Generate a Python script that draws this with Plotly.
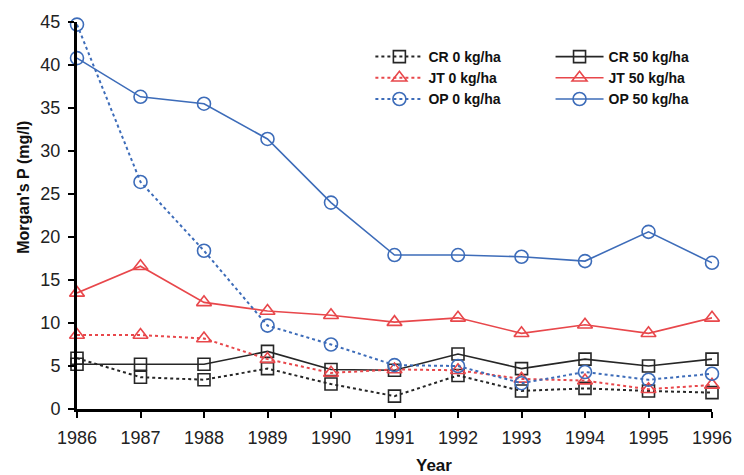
import plotly.graph_objects as go

years = [1986, 1987, 1988, 1989, 1990, 1991, 1992, 1993, 1994, 1995, 1996]

cr_0 = [5.9, 3.7, 3.4, 4.7, 2.9, 1.5, 3.9, 2.1, 2.4, 2.1, 1.9]
cr_50 = [5.2, 5.2, 5.2, 6.7, 4.6, 4.5, 6.4, 4.7, 5.8, 5.0, 5.8]
jt_0 = [8.6, 8.6, 8.2, 5.8, 4.2, 4.6, 4.5, 3.5, 3.3, 2.3, 2.8]
jt_50 = [13.5, 16.6, 12.4, 11.4, 10.9, 10.1, 10.6, 8.8, 9.8, 8.8, 10.6]
op_0 = [44.7, 26.4, 18.4, 9.7, 7.5, 5.1, 5.0, 3.0, 4.3, 3.4, 4.1]
op_50 = [40.8, 36.3, 35.5, 31.4, 24.0, 17.9, 17.9, 17.7, 17.2, 20.6, 17.0]

names = ["CR 0 kg/ha", "CR 50 kg/ha", "JT 0 kg/ha", "JT 50 kg/ha", "OP 0 kg/ha", "OP 50 kg/ha"]
series = [cr_0, cr_50, jt_0, jt_50, op_0, op_50]

BLACK = "#262626"
RED = "#e8474b"
BLUE = "#3d6cb9"
styles = [
    (BLACK, "dot", "square-open", "legend"),
    (BLACK, "solid", "square-open", "legend2"),
    (RED, "dot", "triangle-up-open", "legend"),
    (RED, "solid", "triangle-up-open", "legend2"),
    (BLUE, "dot", "circle-open", "legend"),
    (BLUE, "solid", "circle-open", "legend2"),
]

fig = go.Figure()
for name, vals, (col, dash, sym, leg) in zip(names, series, styles):
    fig.add_trace(go.Scatter(
        x=years, y=vals, name=name, mode="lines+markers", legend=leg,
        line=dict(color=col, width=2 if dash == "dot" else 1.6, dash=dash),
        marker=dict(symbol=sym, size=13 if "square" not in sym else 12,
                    color=col, line=dict(color=col, width=1.6)),
        cliponaxis=False,
    ))

W, H = 744, 475
L, R, T, B = 77, 22, 22, 66
PW, PH = W - L - R, H - T - B

legfont = dict(size=14, color="#111111", family="Liberation Sans, Arial, sans-serif", weight="bold")
legcommon = dict(orientation="v", xanchor="left", yanchor="top", itemwidth=48,
                 font=legfont, bgcolor="rgba(0,0,0,0)", tracegroupgap=0)

fig.update_layout(
    width=W, height=H,
    margin=dict(l=L, r=R, t=T, b=B, pad=0),
    paper_bgcolor="white", plot_bgcolor="white",
    font=dict(family="Liberation Sans, Arial, sans-serif", color="#1a1a1a"),
    showlegend=True,
    legend=dict(x=(375 - L) / PW, y=((H - B) - 41) / PH, **legcommon),
    legend2=dict(x=(558 - L) / PW, y=((H - B) - 41) / PH, **legcommon),
    xaxis=dict(
        range=[1986, 1996], tickmode="array", tickvals=years,
        ticktext=[str(y) for y in years],
        showline=True, linecolor="black", linewidth=3,
        ticks="outside", ticklen=6, tickwidth=2, tickcolor="black",
        showgrid=False, zeroline=False,
        tickfont=dict(size=18, color="#222222"), ticklabelstandoff=4,
    ),
    yaxis=dict(
        range=[0, 45], tickmode="array", tickvals=list(range(0, 46, 5)),
        showline=True, linecolor="black", linewidth=3,
        ticks="outside", ticklen=6, tickwidth=2, tickcolor="black",
        showgrid=False, zeroline=False,
        tickfont=dict(size=18, color="#222222"), ticklabelstandoff=4,
    ),
    annotations=[
        dict(text="<b>Year</b>", xref="paper", yref="paper",
             x=(440 - L) / PW, y=-(465 - (H - B)) / PH,
             xanchor="center", yanchor="middle", showarrow=False,
             font=dict(size=17, color="#111111")),
        dict(text="<b>Morgan's P (mg/l)</b>", xref="paper", yref="paper",
             x=(22 - L) / PW, y=((H - B) - 187) / PH,
             xanchor="center", yanchor="middle", showarrow=False, textangle=-90,
             font=dict(size=16, color="#111111")),
    ],
)

fig.write_html("out.html")
